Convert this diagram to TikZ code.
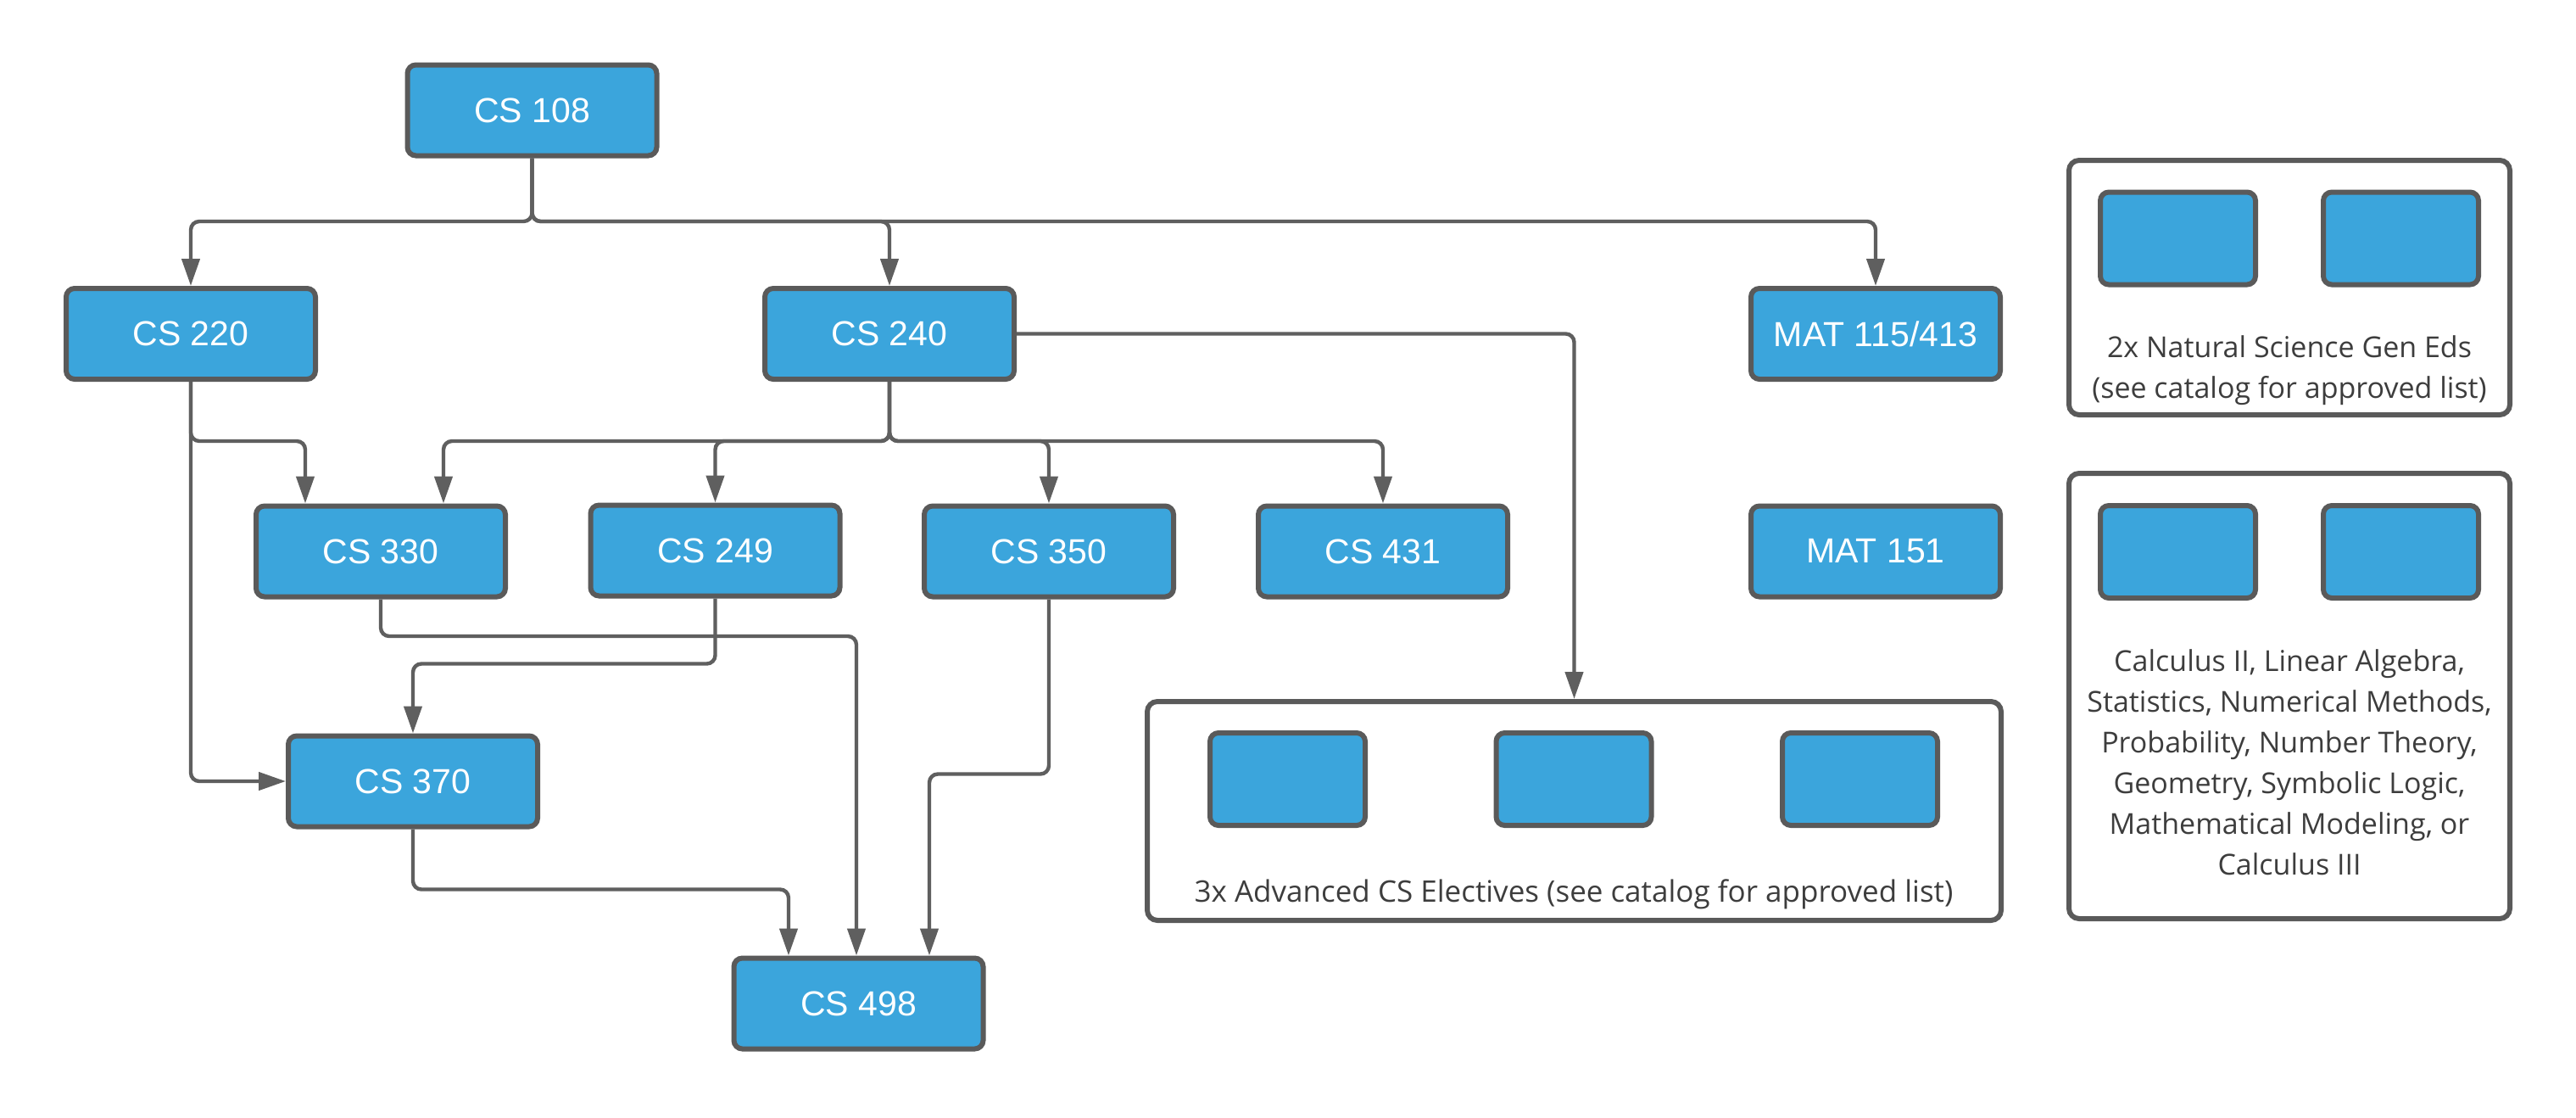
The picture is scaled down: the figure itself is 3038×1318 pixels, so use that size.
\documentclass[tikz,border=0pt]{standalone}
\usepackage{fontspec}
\setmainfont{Liberation Sans}
\newfontfamily\osans{Open Sans}
\usetikzlibrary{arrows.meta,calc}
\definecolor{boxblue}{HTML}{3BA5DC}
\definecolor{bordergray}{HTML}{5A5A5A}
\definecolor{linegray}{HTML}{5F5F5F}
\definecolor{textgray}{HTML}{3D3D3D}
\tikzset{
  course/.style={draw=bordergray, line width=3pt, fill=boxblue, rounded corners=5pt,
    minimum width=147pt, minimum height=53.5pt, inner sep=0pt, text=white,
    font=\fontsize{20.5}{24}\selectfont},
  blank/.style={draw=bordergray, line width=3pt, fill=boxblue, rounded corners=5pt,
    minimum width=91.5pt, minimum height=54.5pt, inner sep=0pt},
  group/.style={draw=bordergray, line width=3pt, rounded corners=6pt, fill=white, inner sep=0pt},
  note/.style={text=textgray, font=\osans\fontsize{17}{24}\selectfont, inner sep=0pt},
  conn/.style={draw=linegray, line width=2.2pt, rounded corners=5pt,
    -{Triangle[length=16pt,width=10.5pt]}},
}
\begin{document}
\begin{tikzpicture}[x=0.5pt,y=-0.5pt]
\fill[white] (0,0) rectangle (3038,1318);
\useasboundingbox (0,0) rectangle (3038,1318);

% courses
\node[course] (c108) at (627.5,130) {CS 108};
\node[course] (c220) at (225,393.5) {CS 220};
\node[course] (c240) at (1049,393.5) {CS 240};
\node[course] (mat115) at (2212,393.5) {MAT 115/413};
\node[course] (c330) at (449,650) {CS 330};
\node[course] (c249) at (843.5,649) {CS 249};
\node[course] (c350) at (1237,650) {CS 350};
\node[course] (c431) at (1631,650) {CS 431};
\node[course] (mat151) at (2212,650) {MAT 151};
\node[course] (c370) at (487,921) {CS 370};
\node[course] (c498) at (1012.5,1183) {CS 498};

% groups
\node[group, minimum width=503.5pt, minimum height=129pt] (elec) at (1856.5,956) {};
\node[blank] (e1) at (1518.5,918.5) {};
\node[blank] (e2) at (1856,918.5) {};
\node[blank] (e3) at (2193.5,918.5) {};
\node[note, font=\osans\fontsize{17.5}{24}\selectfont] (eleclbl) at (1856,1054) {3x Advanced CS Electives (see catalog for approved list)};

\node[group, minimum width=260pt, minimum height=150pt] (nat) at (2700,339) {};
\node[blank] (n1) at (2568.5,281) {};
\node[blank] (n2) at (2831.5,281) {};
\node[note, align=center] (natlbl) at (2700,437) {2x Natural Science Gen Eds\\(see catalog for approved list)};

\node[group, minimum width=260pt, minimum height=262.5pt] (math) at (2700,820.5) {};
\node[blank] (m1) at (2568.5,650.5) {};
\node[blank] (m2) at (2831.5,650.5) {};
\node[note, align=center] (mathlbl) at (2700,899) {Calculus II, Linear Algebra,\\Statistics, Numerical Methods,\\Probability, Number Theory,\\Geometry, Symbolic Logic,\\Mathematical Modeling, or\\Calculus III};

% connectors
\coordinate (j1) at (627.5,261);
\draw[conn] (c108.south) -- (j1) -| (c220.north);
\draw[conn] (c108.south) -- (j1) -| (c240.north);
\draw[conn] (c108.south) -- (j1) -| (mat115.north);

\coordinate (j2) at (225,520);
\draw[conn] (c220.south) -- (j2) -| ($(c330.north)+(-89,0)$);
\draw[conn] (c220.south) |- (c370.west);

\coordinate (j3) at (1049,520);
\draw[conn] (c240.south) -- (j3) -| ($(c330.north)+(74,0)$);
\draw[conn] (c240.south) -- (j3) -| (c249.north);
\draw[conn] (c240.south) -- (j3) -| (c350.north);
\draw[conn] (c240.south) -- (j3) -| (c431.north);
\draw[conn] (c240.east) -| (elec.north);

\draw[conn] (c330.south) -- ++(0,43.5) -| ($(c498.north)+(-2.5,0)$);
\draw[conn] (c249.south) -- ++(0,77) -| (c370.north);
\draw[conn] (c370.south) -- ++(0,71) -| ($(c498.north)+(-82.5,0)$);
\draw[conn] (c350.south) -- ++(0,206) -| ($(c498.north)+(83.5,0)$);
\end{tikzpicture}
\end{document}
